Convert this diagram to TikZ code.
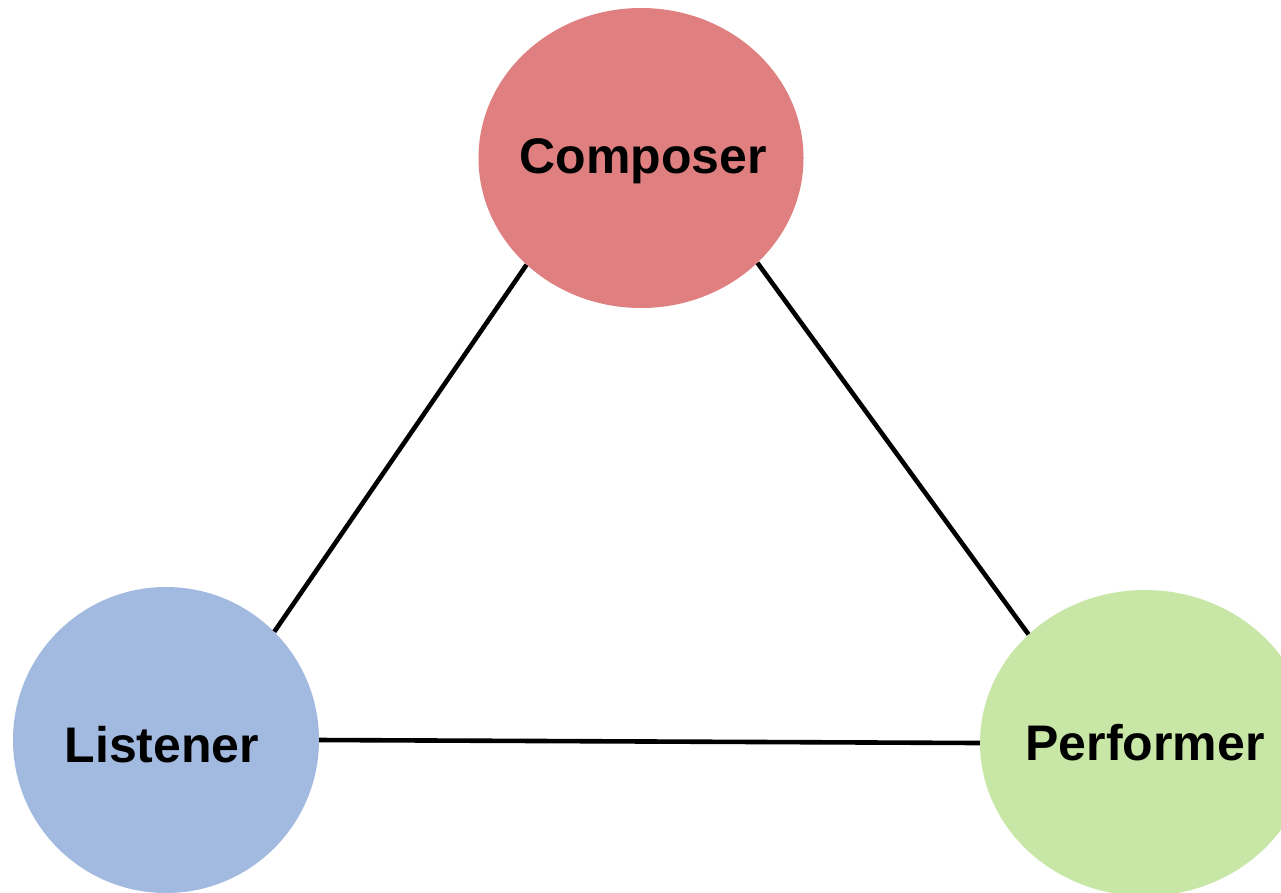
\documentclass[tikz,border=0pt]{standalone}
\usepackage{fontspec}
\setmainfont{Liberation Sans}
\usetikzlibrary{shapes.geometric}
\definecolor{composerfill}{RGB}{224,127,127}
\definecolor{listenerfill}{RGB}{162,185,224}
\definecolor{performerfill}{RGB}{200,230,166}
\tikzset{
  role/.style={ellipse, draw=none, inner sep=0pt},
  rolename/.style={anchor=base, inner sep=0pt, font=\fontsize{50}{60}\selectfont\bfseries},
  link/.style={draw=black, line width=4.6pt}
}
\begin{document}
\begin{tikzpicture}[x=1pt, y=-1pt]
  \useasboundingbox (0,0) rectangle (1281,892);
  \clip (0,0) rectangle (1281,892);
  \fill[white] (0,0) rectangle (1281,892);

  % the three roles
  \node[role, fill=composerfill, minimum width=325pt, minimum height=300pt] (composer) at (641,158) {};
  \node[role, fill=listenerfill, minimum width=306pt, minimum height=306pt] (listener) at (166,740) {};
  \node[role, fill=performerfill, minimum width=330pt, minimum height=306pt] (performer) at (1145,743) {};

  \node[rolename] (composerlabel) at (643,173) {Composer};
  \node[rolename] (listenerlabel) at (162,762) {Listener};
  \node[rolename] (performerlabel) at (1145,760) {Performer};

  % links between the roles
  \draw[link] (composer.-137.1) -- (listener.45);
  \draw[link] (composer.-42.9) -- (performer.137.8);
  \draw[link] (listener.0) -- (performer.180);
\end{tikzpicture}
\end{document}
